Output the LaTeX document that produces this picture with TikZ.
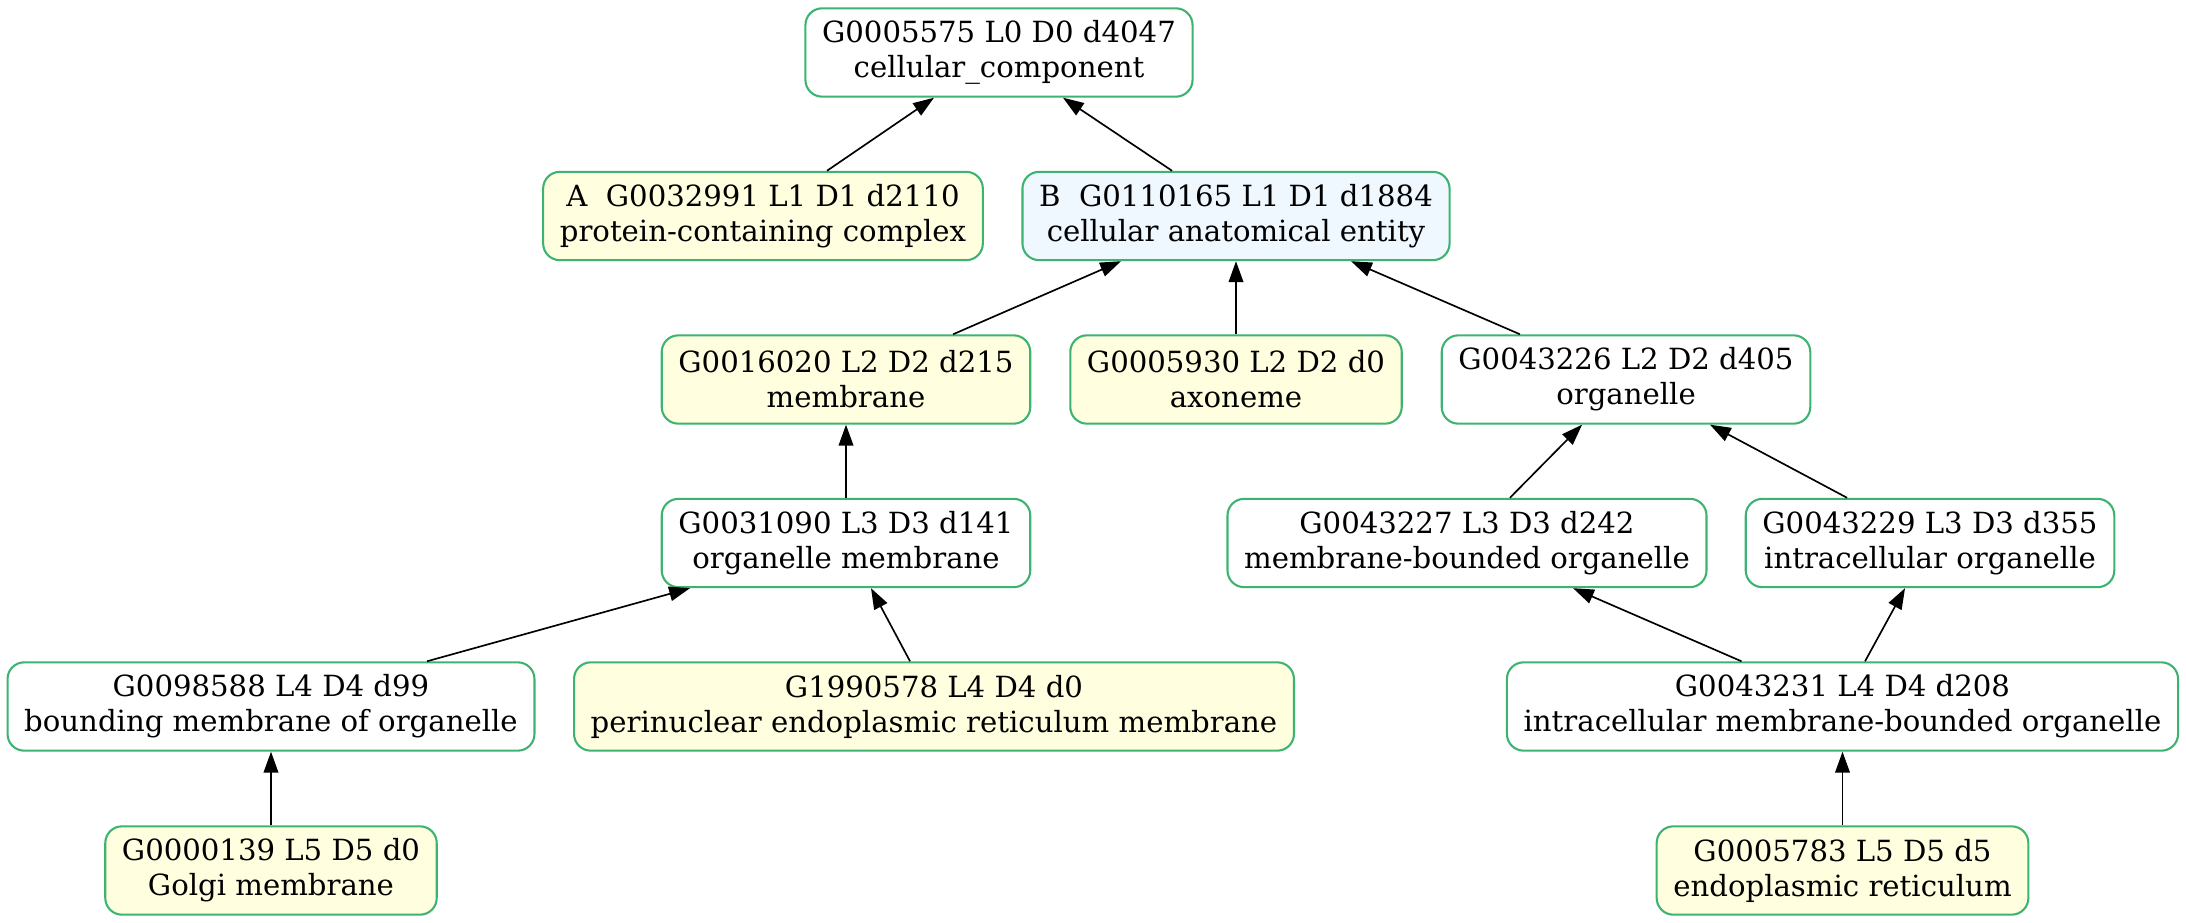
\documentclass[tikz,border=0pt]{standalone}
\usepackage{fontspec}
\setmainfont{DejaVu Serif}
\usepackage{xcolor}
\usepackage{tikz}
\usetikzlibrary{arrows.meta}

\definecolor{termline}{HTML}{3CB371}
\definecolor{leaffill}{HTML}{FFFFE0}
\definecolor{hubfill}{HTML}{F0F8FF}

\tikzset{
  term/.style={draw=termline, line width=1pt, rounded corners=8pt, fill=white,
    align=center, inner xsep=8pt, inner ysep=0pt, minimum height=42.4pt,
    font=\fontsize{14}{16.8}\selectfont},
  leaf/.style={term, fill=leaffill},
  hub/.style={term, fill=hubfill},
  isa/.style={draw=black, line width=0.8pt, -{Triangle[length=10pt,width=7pt]}}
}

\begin{document}
\begin{tikzpicture}[x=0.48pt, y=-0.48pt]
\useasboundingbox (0,0) rectangle (2186,923);
% rank 0
\node[term] (cc) at (999,52.5) {G0005575 L0 D0 d4047\\cellular\_component};
% rank 1
\node[leaf] (pcc) at (763,216) {A\ \ G0032991 L1 D1 d2110\\protein-containing complex};
\node[hub] (cae) at (1236,216) {B\ \ G0110165 L1 D1 d1884\\cellular anatomical entity};
% rank 2
\node[leaf] (mem) at (846,379.5) {G0016020 L2 D2 d215\\membrane};
\node[leaf] (axo) at (1236,379.5) {G0005930 L2 D2 d0\\axoneme};
\node[term] (org) at (1626,379.5) {G0043226 L2 D2 d405\\organelle};
% rank 3
\node[term] (orgmem) at (846,543) {G0031090 L3 D3 d141\\organelle membrane};
\node[term] (mbo) at (1467,543) {G0043227 L3 D3 d242\\membrane-bounded organelle};
\node[term] (ico) at (1930,543) {G0043229 L3 D3 d355\\intracellular organelle};
% rank 4
\node[term] (bmo) at (271,706.5) {G0098588 L4 D4 d99\\bounding membrane of organelle};
\node[leaf] (perer) at (934,706.5) {G1990578 L4 D4 d0\\perinuclear endoplasmic reticulum membrane};
\node[term] (imbo) at (1842.5,706.5) {G0043231 L4 D4 d208\\intracellular membrane-bounded organelle};
% rank 5
\node[leaf] (golgi) at (271,870.5) {G0000139 L5 D5 d0\\Golgi membrane};
\node[leaf] (er) at (1842.5,870.5) {G0005783 L5 D5 d5\\endoplasmic reticulum};

% is_a edges, child to parent
\draw[isa] ([xshift=30.7pt]pcc.north) -- ([xshift=-31.2pt]cc.south);
\draw[isa] ([xshift=-30.7pt]cae.north) -- ([xshift=30.7pt]cc.south);
\draw[isa] ([xshift=51.4pt]mem.north) -- ([xshift=-55.2pt]cae.south);
\draw[isa] (axo.north) -- (cae.south);
\draw[isa] ([xshift=-50.9pt]org.north) -- ([xshift=55.2pt]cae.south);
\draw[isa] (orgmem.north) -- (mem.south);
\draw[isa] ([xshift=20.6pt]mbo.north) -- ([xshift=-21.1pt]org.south);
\draw[isa] ([xshift=-39.8pt]ico.north) -- ([xshift=40.3pt]org.south);
\draw[isa] ([xshift=74.9pt]bmo.north) -- ([xshift=-74.9pt]orgmem.south);
\draw[isa] ([xshift=-11.5pt]perer.north) -- ([xshift=12pt]orgmem.south);
\draw[isa] ([xshift=-48.5pt]imbo.north) -- ([xshift=50.9pt]mbo.south);
\draw[isa] ([xshift=10.8pt]imbo.north) -- ([xshift=-12pt]ico.south);
\draw[isa] (golgi.north) -- (bmo.south);
\draw[isa] (er.north) -- (imbo.south);
\end{tikzpicture}
\end{document}
